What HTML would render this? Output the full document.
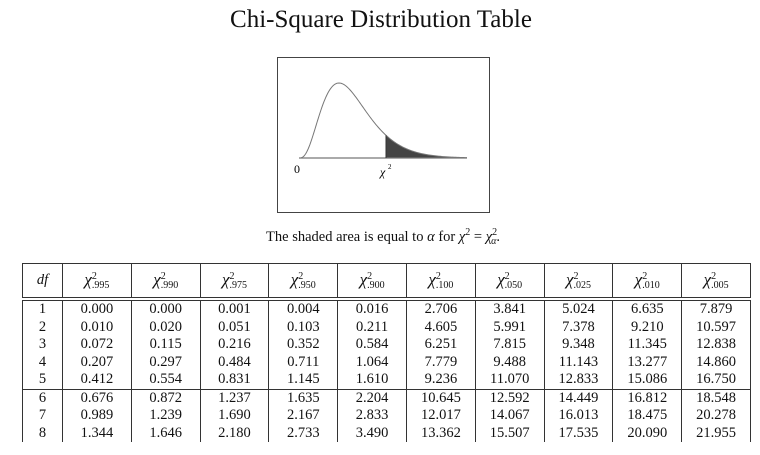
<!DOCTYPE html>
<html><head><meta charset="utf-8">
<style>
body{margin:0;background:#fff;width:760px;height:455px;overflow:hidden;position:relative;font-family:"Liberation Serif",serif;color:#111}
.title{position:absolute;left:0;width:762px;top:6px;text-align:center;font-size:25px}
.box{position:absolute;left:277px;top:57px;width:211px;height:154px;border:1px solid #444}
.cap{position:absolute;left:0;width:766px;top:227px;text-align:center;font-size:14.5px}
table{position:absolute;left:22px;top:263px;border-collapse:collapse;font-size:14.5px;table-layout:fixed;width:728px}
td{text-align:center;padding:0;height:17.5px;line-height:17.5px;border-left:1px solid #333;border-right:1px solid #333}
tr.h td{height:33px;border-top:1px solid #333;border-bottom:4px double #333;font-style:italic}
tr.s td{border-top:1px solid #333}
</style></head><body>
<div class="title">Chi-Square Distribution Table</div>
<div class="box"><svg width="211" height="154" id="sv"></svg></div>
<div class="cap">The shaded area is equal to <i>α</i> for <i>χ</i><sup style="font-size:10px">2</sup> = <i>χ</i><sup style="font-size:10px">2</sup><span style="font-size:10px;margin-left:-6px;position:relative;top:3px"><i>α</i></span>.</div>
<table id="t"><colgroup><col style="width:40px"><col span="10" style="width:68.8px"></colgroup></table>
<script>
var sv=document.getElementById('sv');
var ox=21,oy=100,sx=40/3,pk=Math.pow(3,3)*Math.exp(-3),H=75;
function f(u){return oy-H*Math.pow(u,3)*Math.exp(-u)/pk}
var d='M'+ox+' '+oy,sh='M108 '+oy;
for(var px=0;px<=168;px+=1){var u=px/sx;d+=' L'+(ox+px)+' '+f(u).toFixed(2);if(ox+px>=108)sh+=' L'+(ox+px)+' '+f(u).toFixed(2);}
sh+=' L189 '+oy+' Z';
sv.innerHTML='<path d="'+sh+'" fill="#444"/><line x1="21" y1="100" x2="189" y2="100" stroke="#777" stroke-width="1.2"/><path d="'+d+'" fill="none" stroke="#777" stroke-width="1"/><line x1="108" y1="'+f(87/sx)+'" x2="108" y2="100" stroke="#333"/><text x="16" y="115" font-family="Liberation Serif" font-size="12">0</text><text x="102" y="118" font-family="Liberation Serif" font-size="12" font-style="italic">χ</text><text x="110" y="111" font-family="Liberation Serif" font-size="7">2</text>';
var hd=['.995','.990','.975','.950','.900','.100','.050','.025','.010','.005'];
var rows=[[0.000,0.000,0.001,0.004,0.016,2.706,3.841,5.024,6.635,7.879],[0.010,0.020,0.051,0.103,0.211,4.605,5.991,7.378,9.210,10.597],[0.072,0.115,0.216,0.352,0.584,6.251,7.815,9.348,11.345,12.838],[0.207,0.297,0.484,0.711,1.064,7.779,9.488,11.143,13.277,14.860],[0.412,0.554,0.831,1.145,1.610,9.236,11.070,12.833,15.086,16.750],[0.676,0.872,1.237,1.635,2.204,10.645,12.592,14.449,16.812,18.548],[0.989,1.239,1.690,2.167,2.833,12.017,14.067,16.013,18.475,20.278],[1.344,1.646,2.180,2.733,3.490,13.362,15.507,17.535,20.090,21.955]];
var h='<tr class="h"><td>df</td>';
hd.forEach(function(s){h+='<td><span style="font-size:17px">χ</span><span style="display:inline-block;vertical-align:middle;line-height:9px;font-style:normal;text-align:left"><span style="font-size:10px;display:block">2</span><span style="font-size:10px;display:block">'+s+'</span></span></td>'});
h+='</tr>';
rows.forEach(function(r,i){h+='<tr'+(i==5?' class="s"':'')+'><td>'+(i+1)+'</td>';r.forEach(function(v){h+='<td>'+v.toFixed(3)+'</td>'});h+='</tr>'});
document.getElementById('t').insertAdjacentHTML('beforeend',h);
</script>
</body></html>
